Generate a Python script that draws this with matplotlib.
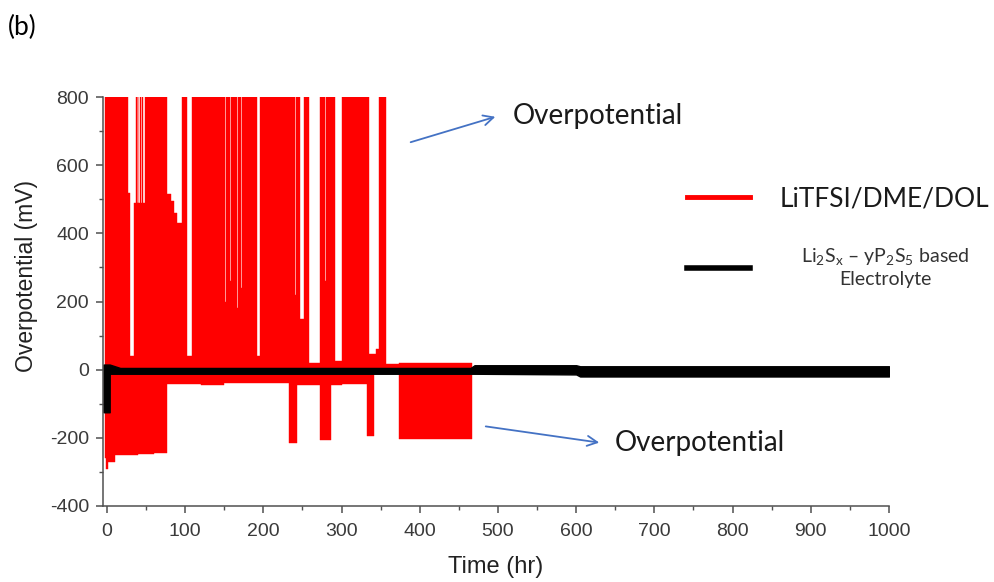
import numpy as np
import matplotlib.pyplot as plt
from matplotlib.lines import Line2D
from matplotlib.ticker import MultipleLocator

plt.rcParams['font.family'] = ['Liberation Sans', 'DejaVu Sans']
plt.rcParams['mathtext.fontset'] = 'custom'
plt.rcParams['mathtext.rm'] = 'Lato'
plt.rcParams['axes.unicode_minus'] = False

# LiTFSI/DME/DOL : envelope of the oscillating trace (step changes)
red_up_t = [-3, 16.7, 27.3, 29.5, 34, 37, 38.2, 39.2, 40.3, 42.2, 43.3, 44.8, 45.9, 48.5,
            76.5, 82, 86, 89, 95.5, 102, 108.5, 151, 152.2, 158, 159.2, 166, 167.2,
            172, 173.2, 192, 196, 240, 241.2, 247, 252, 258, 272, 279, 280.2, 292,
            301, 335, 344, 347.5, 357, 373.5, 467]
red_up_v = [800, 800, 518, 40, 490, 800, 490, 800, 490, 800, 490, 800, 490, 800,
            515, 495, 460, 430, 800, 40, 800, 200, 800, 260, 800, 180, 800,
            240, 800, 40, 800, 220, 800, 150, 800, 20, 800, 260, 800, 25,
            800, 45, 60, 800, 18, 21, 21]
red_lo_t = [-3, -1, 2, 10, 40, 60, 76.5, 120, 150, 200, 232.5, 243, 272, 286,
            300, 333, 341.5, 373.5, 467]
red_lo_v = [-260, -292, -270, -250, -248, -245, -42, -45, -40, -38, -214, -45, -206, -45,
            -42, -194, -12, -203, -203]

# Li2Sx - yP2S5 based electrolyte
blk_t = [-4, 3.5, 3.6, 17, 465, 470, 600, 605, 1000]
blk_hi = [15, 15, 15, 5, 5, 13, 13, 10, 10]
blk_lo = [-125, -125, -12, -12, -12, -12, -14, -20, -20]

W, H = 995, 582
fig = plt.figure(figsize=(W / 100, H / 100), dpi=100)
ax = fig.add_axes([103 / W, 1 - 506 / H, (889 - 103) / W, (506 - 97) / H])

def px(x, y):
    # figure pixel -> figure fraction
    return x / W, 1 - y / H

ax.fill_between(red_up_t, 0, red_up_v, step='post', color='#ff0000', lw=0.3, zorder=2)
ax.fill_between(red_lo_t, red_lo_v, 0, step='post', color='#ff0000', lw=0.3, zorder=2)
ax.fill_between(blk_t, blk_lo, blk_hi, color='black', lw=1.0, zorder=3)

ax.set_xlim(-5, 1000)
ax.set_ylim(-400, 800)
ax.xaxis.set_major_locator(MultipleLocator(100))
ax.xaxis.set_minor_locator(MultipleLocator(50))
ax.yaxis.set_major_locator(MultipleLocator(200))
ax.yaxis.set_minor_locator(MultipleLocator(100))
for s in ['top', 'right']:
    ax.spines[s].set_visible(False)
for s in ['left', 'bottom']:
    ax.spines[s].set_color('#505050')
    ax.spines[s].set_linewidth(1.1)
ax.tick_params(which='major', direction='out', length=5, width=1.1, color='#505050',
               labelsize=14, labelcolor='#3a3a3a')
ax.tick_params(which='minor', direction='out', length=3, width=1.0, color='#505050')
ax.tick_params(axis='x', which='major', pad=7)
ax.tick_params(axis='y', which='major', pad=5)
ax.set_xlabel('Time (hr)', fontsize=17, color='#222222', labelpad=12)
ax.set_ylabel('Overpotential (mV)', fontsize=16.5, color='#222222')
ax.yaxis.set_label_coords((38 - 103) / 786, (506 - 276) / 409)

cal = ['Lato', 'DejaVu Sans']
fig.text(*px(8, 27), '(b)', fontsize=19, family=cal, va='center', ha='left')

# arrows and labels
arrow = dict(arrowstyle='->', color='#4472c4', lw=1.3, mutation_scale=18)
ax.annotate('', xy=px(498, 116), xytext=px(408, 143), xycoords='figure fraction',
            textcoords='figure fraction', arrowprops=arrow)
ax.annotate('', xy=px(602, 443), xytext=px(483, 426), xycoords='figure fraction',
            textcoords='figure fraction', arrowprops=arrow)
fig.text(*px(513, 116), 'Overpotential', fontsize=20, family=cal, va='center', color='#1a1a1a')
fig.text(*px(615, 443), 'Overpotential', fontsize=20, family=cal, va='center', color='#1a1a1a')

# legend
fig.add_artist(Line2D([687 / W, 750 / W], [1 - 197 / H] * 2, color='#ff0000', lw=3.5,
                      transform=fig.transFigure))
fig.add_artist(Line2D([687 / W, 750 / W], [1 - 268 / H] * 2, color='black', lw=4,
                      transform=fig.transFigure))
fig.text(*px(780, 199), 'LiTFSI/DME/DOL', fontsize=19, family=cal, va='center', color='#1a1a1a')
fig.text(*px(885, 267),
         'Li$_\\mathrm{2}$S$_\\mathrm{x}$ – yP$_\\mathrm{2}$S$_\\mathrm{5}$ based\nElectrolyte',
         fontsize=14, family=cal, va='center', ha='center', multialignment='center',
         color='#333333', linespacing=1.2)

fig.savefig('out.png', dpi=100)
